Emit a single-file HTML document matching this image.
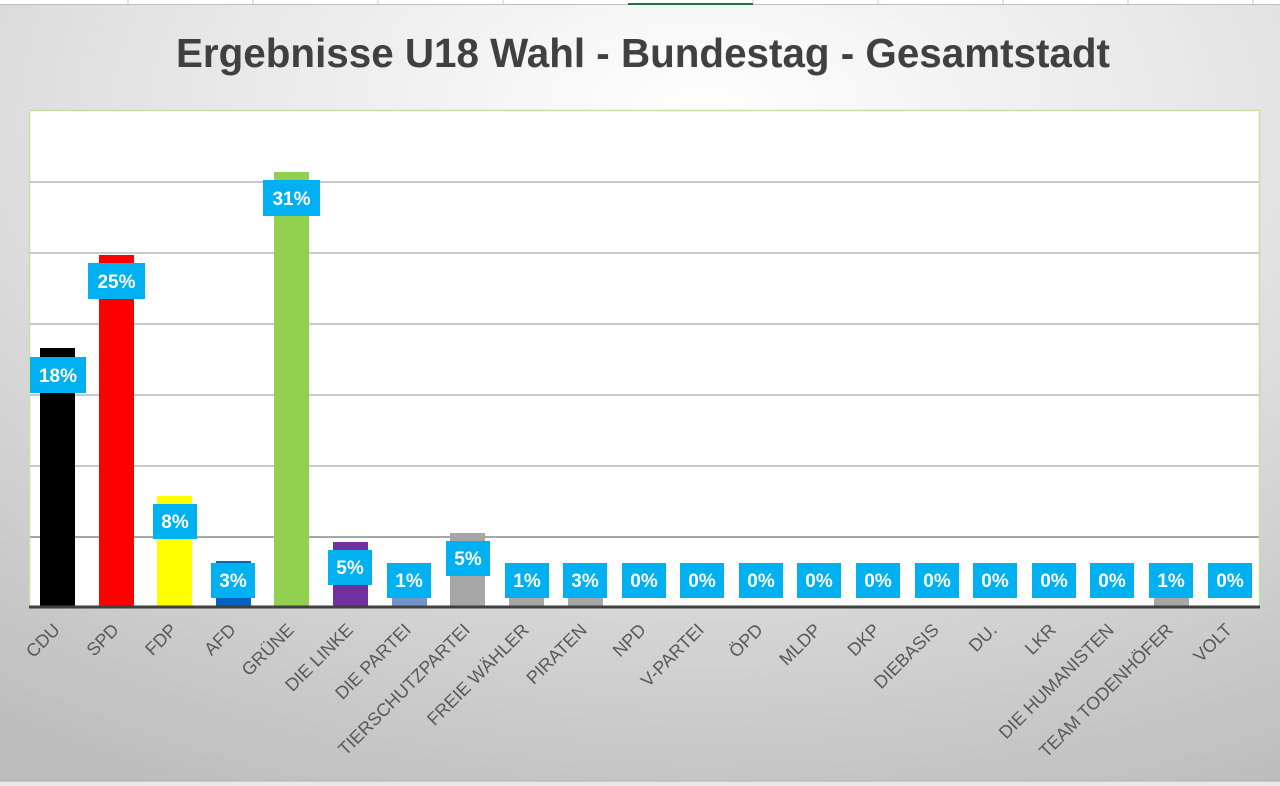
<!DOCTYPE html>
<html><head><meta charset="utf-8"><style>
html,body{margin:0;padding:0;}
body{width:1280px;height:786px;overflow:hidden;}
svg{display:block;}
</style></head><body>
<svg width="1280" height="786" viewBox="0 0 1280 786" xmlns="http://www.w3.org/2000/svg" font-family="'Liberation Sans', sans-serif">
<defs>
<radialGradient id="bg" cx="0.55" cy="0.15" r="0.95">
<stop offset="0" stop-color="#ffffff"/>
<stop offset="0.5" stop-color="#e2e2e2"/>
<stop offset="1" stop-color="#bdbdbd"/>
</radialGradient>
</defs>
<rect x="0" y="0" width="1280" height="786" fill="url(#bg)"/>
<rect x="0" y="0" width="1280" height="5" fill="#ffffff"/>
<line x1="0" y1="4.5" x2="1280" y2="4.5" stroke="#bdbdbd"/>
<g stroke="#c8c8c8">
<line x1="128" y1="0" x2="128" y2="5"/><line x1="253" y1="0" x2="253" y2="5"/><line x1="378" y1="0" x2="378" y2="5"/><line x1="503" y1="0" x2="503" y2="5"/><line x1="753" y1="0" x2="753" y2="5"/><line x1="878" y1="0" x2="878" y2="5"/><line x1="1003" y1="0" x2="1003" y2="5"/><line x1="1128" y1="0" x2="1128" y2="5"/><line x1="1253" y1="0" x2="1253" y2="5"/>
</g>
<line x1="628" y1="4" x2="753" y2="4" stroke="#217346" stroke-width="2"/>
<rect x="0" y="781" width="1280" height="5" fill="#e8e8e8"/>
<line x1="0" y1="781" x2="1280" y2="781" stroke="#b0b0b0"/>

<text x="643" y="67" text-anchor="middle" font-size="41" font-weight="bold" fill="#404040" textLength="934" lengthAdjust="spacingAndGlyphs">Ergebnisse U18 Wahl - Bundestag -  Gesamtstadt</text>

<rect x="29.5" y="110.5" width="1230" height="497" fill="#ffffff" stroke="#c5e0a5" stroke-width="1.5"/>
<g stroke="#c9c9c9" stroke-width="2">
<line x1="30" y1="182" x2="1259" y2="182"/>
<line x1="30" y1="253" x2="1259" y2="253"/>
<line x1="30" y1="324" x2="1259" y2="324"/>
<line x1="30" y1="395" x2="1259" y2="395"/>
<line x1="30" y1="466" x2="1259" y2="466"/>
<line x1="30" y1="537" x2="1259" y2="537" stroke="#a6a6a6"/>
</g>

<g>
<rect x="40" y="348" width="35" height="259" fill="#000000"/>
<rect x="99" y="255" width="35" height="352" fill="#ff0000"/>
<rect x="157" y="496" width="35" height="111" fill="#ffff00"/>
<rect x="216" y="561" width="35" height="46" fill="#0563c1"/>
<rect x="274" y="172" width="35" height="435" fill="#92d050"/>
<rect x="333" y="542" width="35" height="65" fill="#7030a0"/>
<rect x="392" y="594" width="35" height="13" fill="#6f94cc"/>
<rect x="450" y="533" width="35" height="74" fill="#a6a6a6"/>
<rect x="509" y="596" width="35" height="11" fill="#a6a6a6"/>
<rect x="568" y="596" width="35" height="11" fill="#a6a6a6"/>
<rect x="1154" y="596" width="35" height="11" fill="#a6a6a6"/>
</g>
<line x1="29" y1="607" x2="1260" y2="607" stroke="#404040" stroke-width="3"/>

<g fill="#00b0f0">
<rect x="30" y="357" width="56" height="36"/>
<rect x="88" y="263" width="57" height="36"/>
<rect x="153" y="504" width="44" height="35"/>
<rect x="211" y="563" width="44" height="35"/>
<rect x="263" y="180" width="57" height="36"/>
<rect x="328" y="550" width="44" height="35"/>
<rect x="387" y="563" width="44" height="35"/>
<rect x="446" y="541" width="44" height="35"/>
<rect x="505" y="563" width="44" height="35"/>
<rect x="563" y="563" width="44" height="35"/>
<rect x="622" y="563" width="44" height="35"/>
<rect x="680" y="563" width="44" height="35"/>
<rect x="739" y="563" width="44" height="35"/>
<rect x="797" y="563" width="44" height="35"/>
<rect x="856" y="563" width="44" height="35"/>
<rect x="915" y="563" width="44" height="35"/>
<rect x="973" y="563" width="44" height="35"/>
<rect x="1032" y="563" width="44" height="35"/>
<rect x="1090" y="563" width="44" height="35"/>
<rect x="1149" y="563" width="44" height="35"/>
<rect x="1208" y="563" width="44" height="35"/>
</g>
<g fill="#ffffff" font-size="19" font-weight="bold" text-anchor="middle">
<text x="58" y="382">18%</text>
<text x="116.5" y="288">25%</text>
<text x="175" y="528">8%</text>
<text x="233" y="587">3%</text>
<text x="291.5" y="205">31%</text>
<text x="350" y="574">5%</text>
<text x="409" y="587">1%</text>
<text x="468" y="565">5%</text>
<text x="527" y="587">1%</text>
<text x="585" y="587">3%</text>
<text x="644" y="587">0%</text>
<text x="702" y="587">0%</text>
<text x="761" y="587">0%</text>
<text x="819" y="587">0%</text>
<text x="878" y="587">0%</text>
<text x="937" y="587">0%</text>
<text x="995" y="587">0%</text>
<text x="1054" y="587">0%</text>
<text x="1112" y="587">0%</text>
<text x="1171" y="587">1%</text>
<text x="1230" y="587">0%</text>
</g>

<g fill="#595959" font-size="18" text-anchor="end">
<text transform="translate(61,631) rotate(-45)">CDU</text>
<text transform="translate(120,631) rotate(-45)">SPD</text>
<text transform="translate(178,631) rotate(-45)">FDP</text>
<text transform="translate(237,631) rotate(-45)">AFD</text>
<text transform="translate(295,631) rotate(-45)">GRÜNE</text>
<text transform="translate(354,631) rotate(-45)">DIE LINKE</text>
<text transform="translate(412,631) rotate(-45)">DIE PARTEI</text>
<text transform="translate(471,631) rotate(-45)">TIERSCHUTZPARTEI</text>
<text transform="translate(530,631) rotate(-45)">FREIE WÄHLER</text>
<text transform="translate(588,631) rotate(-45)">PIRATEN</text>
<text transform="translate(647,631) rotate(-45)">NPD</text>
<text transform="translate(705,631) rotate(-45)">V-PARTEI</text>
<text transform="translate(764,631) rotate(-45)">ÖPD</text>
<text transform="translate(822,631) rotate(-45)">MLDP</text>
<text transform="translate(881,631) rotate(-45)">DKP</text>
<text transform="translate(940,631) rotate(-45)">DIEBASIS</text>
<text transform="translate(998,631) rotate(-45)">DU.</text>
<text transform="translate(1057,631) rotate(-45)">LKR</text>
<text transform="translate(1115,631) rotate(-45)">DIE HUMANISTEN</text>
<text transform="translate(1174,631) rotate(-45)">TEAM TODENHÖFER</text>
<text transform="translate(1233,631) rotate(-45)">VOLT</text>
</g>
</svg>
</body></html>
